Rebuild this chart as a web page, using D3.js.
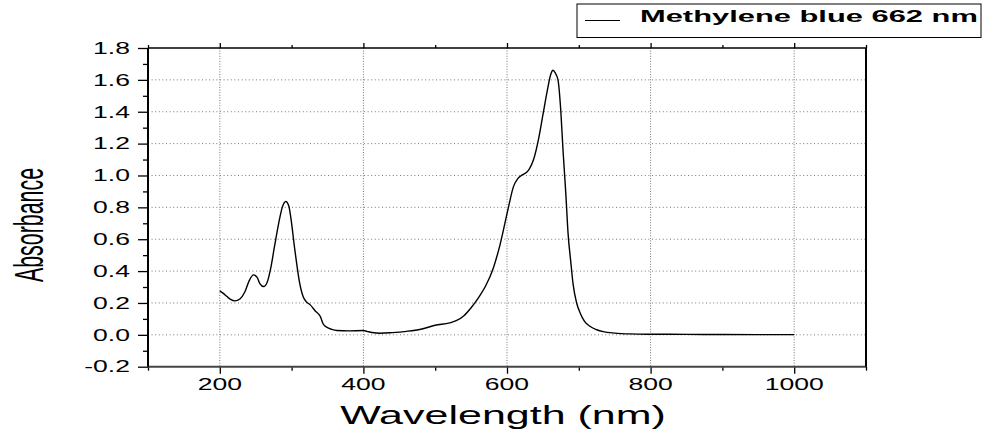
<!DOCTYPE html>
<html>
<head>
<meta charset="utf-8">
<script src="https://cdn.jsdelivr.net/npm/d3@7"></script>
<style>
  html, body { margin: 0; padding: 0; background: #fff; }
  svg { display: block; }
  text { font-family: "Liberation Sans", Arial, sans-serif; fill: #000; }
</style>
</head>
<body>
<svg id="chart" width="984" height="432"></svg>
<script>
// ---- data ----
const wavelength = [200,205,210,215,221,228,235,241,247,252,256,261,266,271,276,282,287,292,296,300,304,307,311,316,320,326,333,340,344,350,356,363,380,400,405,412,423,440,460,480,500,520,530,540,550,562,570,581,590,602,609,615,620,626,631,637,644,650,656,661,664,667,671,675,678,682,685,689,692,697,702,708,716,725,734,750,771,800,850,900,1000];
const absorbance = [0.276,0.26,0.24,0.222,0.213,0.225,0.27,0.34,0.376,0.36,0.32,0.303,0.33,0.42,0.55,0.7,0.8,0.837,0.81,0.7,0.55,0.45,0.33,0.24,0.21,0.188,0.15,0.115,0.068,0.045,0.034,0.027,0.025,0.027,0.022,0.015,0.01,0.014,0.022,0.035,0.06,0.075,0.09,0.12,0.17,0.245,0.305,0.42,0.56,0.8,0.93,0.98,1.0,1.015,1.04,1.1,1.23,1.38,1.53,1.635,1.66,1.645,1.6,1.4,1.16,0.88,0.64,0.45,0.32,0.2,0.136,0.085,0.052,0.032,0.02,0.011,0.006,0.004,0.003,0.002,0.001];
const xMajorTicks = [200,400,600,800,1000];
const xMinorTicks = [100,300,500,700,900,1100];
const yMajorTicks = [-0.2,0.0,0.2,0.4,0.6,0.8,1.0,1.2,1.4,1.6,1.8];
const yMinorTicks = [-0.1,0.1,0.3,0.5,0.7,0.9,1.1,1.3,1.5,1.7];
const xGrid = [200,400,600,800,1000];
const yGrid = [0.0,0.2,0.4,0.6,0.8,1.0,1.2,1.4,1.6];
const xTitle = "Wavelength (nm)";
const yTitle = "Absorbance";
const legendLabel = "Methylene blue 662 nm";

// ---- layout ----
const L = 148, R = 866, T = 48, B = 366.7;
const svg = d3.select("#chart");
const x = d3.scaleLinear().domain([100, 1100]).range([L, R]);
const y = d3.scaleLinear().domain([-0.2, 1.8]).range([B, T]);

// grid
const grid = svg.append("g");
grid.selectAll(".gx").data(xGrid).enter().append("line")
  .attr("x1", d => x(d)).attr("x2", d => x(d)).attr("y1", T).attr("y2", B)
  .attr("stroke", "#777").attr("stroke-width", 1).attr("stroke-dasharray", "1,1.6");
grid.selectAll(".gy").data(yGrid).enter().append("line")
  .attr("x1", L).attr("x2", R).attr("y1", d => y(d)).attr("y2", d => y(d))
  .attr("stroke", "#777").attr("stroke-width", 1).attr("stroke-dasharray", "1,2.6");

// axes ticks
function tickAxis(gen, transform) {
  const g = svg.append("g").attr("transform", transform).call(gen);
  g.select(".domain").remove();
  g.selectAll(".tick line").attr("stroke", "#000").attr("stroke-width", 1.3);
  g.selectAll(".tick text").remove();
  return g;
}
tickAxis(d3.axisBottom(x).tickValues(xMajorTicks).tickSize(7).tickFormat(""), `translate(0,${B})`);
tickAxis(d3.axisBottom(x).tickValues(xMinorTicks).tickSize(4).tickFormat(""), `translate(0,${B})`);
tickAxis(d3.axisTop(x).tickValues(xMajorTicks).tickSize(5).tickFormat(""), `translate(0,${T})`);
tickAxis(d3.axisTop(x).tickValues(xMinorTicks).tickSize(3).tickFormat(""), `translate(0,${T})`);
tickAxis(d3.axisLeft(y).tickValues(yMajorTicks).tickSize(10).tickFormat(""), `translate(${L},0)`);
tickAxis(d3.axisLeft(y).tickValues(yMinorTicks).tickSize(5).tickFormat(""), `translate(${L},0)`);

// frame
svg.append("line").attr("x1", L).attr("x2", R).attr("y1", T).attr("y2", T).attr("stroke", "#000").attr("stroke-width", 1.5);
svg.append("line").attr("x1", L).attr("x2", R).attr("y1", B).attr("y2", B).attr("stroke", "#444").attr("stroke-width", 2);
svg.append("line").attr("x1", L).attr("x2", L).attr("y1", T).attr("y2", B).attr("stroke", "#000").attr("stroke-width", 2);
svg.append("line").attr("x1", R).attr("x2", R).attr("y1", T).attr("y2", B).attr("stroke", "#000").attr("stroke-width", 2);

// tick labels (horizontally stretched like the reference)
const SX = 1.66, FS = 16;
svg.append("g").selectAll("text").data(yMajorTicks).enter().append("text")
  .attr("transform", d => `translate(${L - 18},${y(d) + FS * 0.36}) scale(${SX},1)`)
  .attr("text-anchor", "end").attr("font-size", FS)
  .text(d => d3.format(".1f")(d).replace("−", "-"));
svg.append("g").selectAll("text").data(xMajorTicks).enter().append("text")
  .attr("transform", d => `translate(${x(d)},${B + 23.5}) scale(${SX},1)`)
  .attr("text-anchor", "middle").attr("font-size", FS)
  .text(d => d);

// titles
svg.append("text")
  .attr("transform", `translate(${(L + R) / 2 - 4},423.5) scale(1.68,1)`)
  .attr("text-anchor", "middle").attr("font-size", 25.6).text(xTitle);
svg.append("text")
  .attr("transform", `translate(43,225) rotate(-90) scale(1,1.9)`)
  .attr("text-anchor", "middle").attr("font-size", 21.4).text(yTitle);

// curve
const line = d3.line().x((d, i) => x(wavelength[i])).y(d => y(d)).curve(d3.curveMonotoneX);
svg.append("path").datum(absorbance).attr("d", line)
  .attr("fill", "none").attr("stroke", "#000").attr("stroke-width", 1.4);

// legend
const lg = svg.append("g");
lg.append("rect").attr("x", 577).attr("y", 4).attr("width", 404).attr("height", 33.5)
  .attr("fill", "#fff").attr("stroke", "#000").attr("stroke-width", 1);
lg.append("line").attr("x1", 585).attr("x2", 620).attr("y1", 20.5).attr("y2", 20.5)
  .attr("stroke", "#000").attr("stroke-width", 1);
lg.append("text").attr("transform", "translate(640,22.3) scale(1.93,1)")
  .attr("font-size", 16).attr("font-weight", "bold").text(legendLabel);
</script>
</body>
</html>
